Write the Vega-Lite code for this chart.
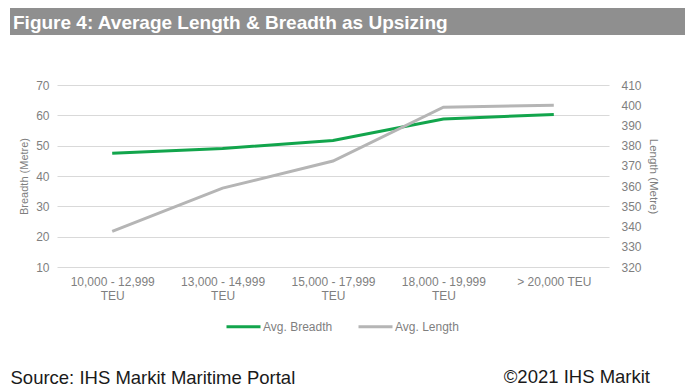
{
  "$schema": "https://vega.github.io/schema/vega-lite/v6.json",
  "padding": {"left": 10, "top": 8, "right": 0, "bottom": 0},
  "spacing": 44,
  "background": "white",
  "config": {"view": {"stroke": null}, "font": "Liberation Sans"},
  "resolve": {"scale": {"x": "independent", "y": "independent", "color": "independent"}, "legend": {"color": "independent"}},
  "datasets": {
    "sizes": [
      {"cat": "10,000 - 12,999|TEU", "series": "Avg. Breadth", "value": 47.5},
      {"cat": "13,000 - 14,999|TEU", "series": "Avg. Breadth", "value": 49.1},
      {"cat": "15,000 - 17,999|TEU", "series": "Avg. Breadth", "value": 51.7},
      {"cat": "18,000 - 19,999|TEU", "series": "Avg. Breadth", "value": 58.8},
      {"cat": "> 20,000 TEU", "series": "Avg. Breadth", "value": 60.3},
      {"cat": "10,000 - 12,999|TEU", "series": "Avg. Length", "value": 337.6},
      {"cat": "13,000 - 14,999|TEU", "series": "Avg. Length", "value": 359.0},
      {"cat": "15,000 - 17,999|TEU", "series": "Avg. Length", "value": 372.4},
      {"cat": "18,000 - 19,999|TEU", "series": "Avg. Length", "value": 399.0},
      {"cat": "> 20,000 TEU", "series": "Avg. Length", "value": 400.0}
    ],
    "heading": [{"text": "Figure 4: Average Length & Breadth as Upsizing", "start": 0, "end": 675}]
  },
  "vconcat": [
    {
      "width": 628,
      "height": 27,
      "data": {"name": "heading"},
      "encoding": {
        "x": {"field": "start", "type": "quantitative", "scale": {"domain": [47, 675], "nice": false, "zero": false}, "axis": null}
      },
      "layer": [
        {
          "mark": {"type": "rect", "color": "#8f8f8f"},
          "encoding": {"x2": {"field": "end"}}
        },
        {
          "mark": {"type": "text", "align": "left", "baseline": "middle", "dx": 3, "dy": 1, "font": "Liberation Sans", "fontWeight": "bold", "fontSize": 19, "color": "#ffffff"},
          "encoding": {"text": {"field": "text"}}
        }
      ]
    },
    {
      "width": 552,
      "height": 182,
      "data": {"name": "sizes"},
      "title": {"text": "©2021 IHS Markit", "orient": "bottom", "anchor": "end", "frame": "group", "dx": 41, "offset": 0, "dy": -4, "baseline": "alphabetic", "font": "Liberation Sans", "fontSize": 18.5, "fontWeight": "normal", "color": "#1a1a1a"},
      "encoding": {
        "x": {
          "field": "cat", "type": "ordinal", "sort": null,
          "scale": {"type": "point", "padding": 0.5},
          "axis": {
            "title": "Source: IHS Markit Maritime Portal",
            "titleX": -47, "titleY": 116, "titleAlign": "left", "titleBaseline": "alphabetic",
            "titleFont": "Liberation Sans", "titleFontSize": 18.5, "titleFontWeight": "normal", "titleColor": "#1a1a1a",
            "labelExpr": "split(datum.label, '|')", "labelAngle": 0, "labelFontSize": 12, "labelColor": "#7f7f7f",
            "labelLineHeight": 14, "labelPadding": 9, "domain": false, "ticks": false, "grid": false
          }
        },
        "color": {
          "field": "series", "type": "nominal",
          "scale": {"domain": ["Avg. Breadth", "Avg. Length"], "range": ["#12a54c", "#b5b5b5"]},
          "legend": {
            "title": null, "orient": "none", "legendX": 168, "legendY": 223, "direction": "horizontal",
            "symbolType": "stroke", "symbolSize": 1156, "symbolStrokeWidth": 3, "labelFontSize": 12,
            "labelColor": "#7f7f7f", "labelOffset": 1, "columnPadding": 19, "padding": 0
          }
        }
      },
      "layer": [
        {
          "transform": [{"filter": "datum.series === 'Avg. Breadth'"}],
          "mark": {"type": "line", "strokeWidth": 3},
          "encoding": {
            "y": {
              "field": "value", "type": "quantitative", "scale": {"domain": [10, 70]},
              "axis": {
                "title": "Breadth (Metre)", "values": [10, 20, 30, 40, 50, 60, 70], "grid": true, "gridColor": "#d9d9d9",
                "domain": false, "ticks": false, "labelPadding": 8, "labelFontSize": 12, "labelColor": "#7f7f7f", "labelFlush": false,
                "titleFontSize": 11, "titleFontWeight": "normal", "titleColor": "#7f7f7f", "titlePadding": 6
              }
            }
          }
        },
        {
          "transform": [{"filter": "datum.series === 'Avg. Length'"}],
          "mark": {"type": "line", "strokeWidth": 3},
          "encoding": {
            "y": {
              "field": "value", "type": "quantitative", "scale": {"domain": [320, 410]},
              "axis": {
                "orient": "right", "title": "Length   (Metre)", "values": [320, 330, 340, 350, 360, 370, 380, 390, 400, 410], "grid": false,
                "domain": false, "ticks": false, "labelPadding": 12, "labelFontSize": 12, "labelColor": "#7f7f7f", "labelFlush": false,
                "titleFontSize": 11.5, "titleFontWeight": "normal", "titleColor": "#7f7f7f", "titlePadding": 6
              }
            }
          }
        }
      ],
      "resolve": {"scale": {"y": "independent"}}
    }
  ]
}
